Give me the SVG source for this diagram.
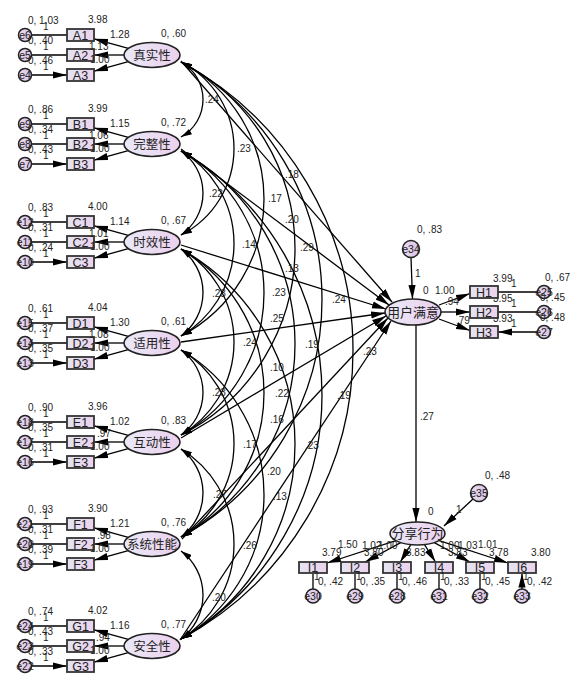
<svg xmlns="http://www.w3.org/2000/svg" width="582" height="681" viewBox="0 0 582 681">
<defs>
<linearGradient id="gL" x1="0" y1="0" x2="1" y2="0"><stop offset="0" stop-color="#e9e9f8"/><stop offset="1" stop-color="#ecd0ec"/></linearGradient>
<linearGradient id="gR" x1="0" y1="0" x2="1" y2="0"><stop offset="0" stop-color="#e4e4f2"/><stop offset="1" stop-color="#ecd2ec"/></linearGradient>
<linearGradient id="gE" x1="0" y1="0" x2="1" y2="0"><stop offset="0" stop-color="#e8dcf2"/><stop offset="1" stop-color="#dcc2e4"/></linearGradient>
<marker id="ah" viewBox="0 0 14 8" refX="14" refY="4" markerWidth="14" markerHeight="8" markerUnits="userSpaceOnUse" orient="auto-start-reverse"><path d="M0,0.4 L14,4 L0,7.6 z" fill="#000"/></marker>
<marker id="as" viewBox="0 0 11 7" refX="11" refY="3.5" markerWidth="11" markerHeight="7" markerUnits="userSpaceOnUse" orient="auto-start-reverse"><path d="M0,0.4 L11,3.5 L0,6.6 z" fill="#000"/></marker>
</defs>
<style>
.ln{fill:none;stroke:#000;stroke-width:1.3;marker-end:url(#ah)}
.cv{fill:none;stroke:#000;stroke-width:1.3;marker-start:url(#as);marker-end:url(#as)}
.lat{fill:url(#gL);stroke:#222;stroke-width:1.6}
.obs{fill:url(#gR);stroke:#333;stroke-width:1.8}
.err{fill:url(#gE);stroke:#222;stroke-width:1.5}
.t{font-family:"Liberation Sans",Arial,sans-serif;font-size:10px;fill:#222}
.v{font-family:"Liberation Sans",Arial,sans-serif;font-size:12.5px;fill:#222;text-anchor:middle}
.e{font-family:"Liberation Sans",Arial,sans-serif;font-size:10.5px;fill:#222;text-anchor:middle}
.c{font-family:"Liberation Sans","Noto Sans CJK SC",sans-serif;font-size:12.5px;fill:#222;text-anchor:middle}
</style>
<rect width="582" height="681" fill="#fff"/>

<g id="connectors">
<!-- error -> indicator, left -->
<path class="ln" d="M31.5,35H67M31.5,55H67M31.5,75H67"/>
<path class="ln" d="M31.5,124H67M31.5,144H67M31.5,164H67"/>
<path class="ln" d="M31.5,222H67M31.5,242H67M31.5,262H67"/>
<path class="ln" d="M31.5,323H67M31.5,343H67M31.5,363H67"/>
<path class="ln" d="M31.5,422H67M31.5,442H67M31.5,462H67"/>
<path class="ln" d="M31.5,524H67M31.5,544H67M31.5,564H67"/>
<path class="ln" d="M31.5,626H67M31.5,646H67M31.5,666H67"/>
<!-- latent -> indicators -->
<path class="ln" d="M128.3,48.4L94,38.8"/><path class="ln" d="M124,55H94"/><path class="ln" d="M128.3,61.6L94,71.2"/>
<path class="ln" d="M128.3,137.4L94,127.8"/><path class="ln" d="M124,144H94"/><path class="ln" d="M128.3,150.6L94,160.2"/>
<path class="ln" d="M128.3,235.4L94,225.8"/><path class="ln" d="M124,242H94"/><path class="ln" d="M128.3,248.6L94,258.2"/>
<path class="ln" d="M128.3,336.4L94,326.8"/><path class="ln" d="M124,343H94"/><path class="ln" d="M128.3,349.6L94,359.2"/>
<path class="ln" d="M128.3,435.4L94,425.8"/><path class="ln" d="M124,442H94"/><path class="ln" d="M128.3,448.6L94,458.2"/>
<path class="ln" d="M128.3,537.4L94,527.8"/><path class="ln" d="M124,544H94"/><path class="ln" d="M128.3,550.6L94,560.2"/>
<path class="ln" d="M128.3,639.4L94,629.8"/><path class="ln" d="M124,646H94"/><path class="ln" d="M128.3,652.6L94,662.2"/>
<!-- covariances -->
<path class="cv" d="M181,62A42.96,42.96 0 0 1 181,137"/>
<path class="cv" d="M181,151A51.09,51.09 0 0 1 181,235"/>
<path class="cv" d="M181,249A54.01,54.01 0 0 1 181,336"/>
<path class="cv" d="M181,350A52.05,52.05 0 0 1 181,435"/>
<path class="cv" d="M181,449A55,55 0 0 1 181,537"/>
<path class="cv" d="M181,551A55,55 0 0 1 181,639"/>
<path class="cv" d="M181,62A97.09,97.09 0 0 1 181,235"/>
<path class="cv" d="M181,151A107.22,107.22 0 0 1 181,336"/>
<path class="cv" d="M181,249A108.09,108.09 0 0 1 181,435"/>
<path class="cv" d="M181,350A108.97,108.97 0 0 1 181,537"/>
<path class="cv" d="M181,449A111.64,111.64 0 0 1 181,639"/>
<path class="cv" d="M181,62A154.57,154.57 0 0 1 181,336"/>
<path class="cv" d="M181,151A162.97,162.97 0 0 1 181,435"/>
<path class="cv" d="M181,249A166.42,166.42 0 0 1 181,537"/>
<path class="cv" d="M181,350A167.28,167.28 0 0 1 181,639"/>
<path class="cv" d="M181,62A209.55,209.55 0 0 1 181,435"/>
<path class="cv" d="M181,151A220.37,220.37 0 0 1 181,537"/>
<path class="cv" d="M181,249A223.78,223.78 0 0 1 181,639"/>
<path class="cv" d="M181,62A270.52,270.52 0 0 1 181,537"/>
<path class="cv" d="M181,151A281.62,281.62 0 0 1 181,639"/>
<path class="cv" d="M181,62A327.95,327.95 0 0 1 181,639"/>
<!-- regressions to 用户满意 -->
<path class="ln" d="M181,61L392,302"/>
<path class="ln" d="M181,149L389,305"/>
<path class="ln" d="M181,245L386,309"/>
<path class="ln" d="M181,342L385,313"/>
<path class="ln" d="M181,438L386,316"/>
<path class="ln" d="M182,539L388,318"/>
<path class="ln" d="M180,640L391,321"/>
<!-- right side -->
<path class="ln" d="M411,257.5L412.5,299"/>
<path class="ln" d="M439,305L470,293.5"/><path class="ln" d="M441,312H470"/><path class="ln" d="M439,319L470,330.5"/>
<path class="ln" d="M537.5,292H498M537.5,312H498M537.5,332H498"/>
<path class="ln" d="M416,325L416,522"/>
<path class="ln" d="M473,499L444,526"/>
<path class="ln" d="M395.8,540.6L327,563"/>
<path class="ln" d="M400.7,542.6L365.1,562"/>
<path class="ln" d="M410.8,544.7L400.3,562"/>
<path class="ln" d="M424.5,544.6L435.5,562"/>
<path class="ln" d="M434.3,542.6L469.9,562"/>
<path class="ln" d="M439.2,540.6L508,563"/>
<path class="ln" d="M313,589V573.5M355,589V573.5M397,589V573.5M439,589V573.5M480,589V573.5M522,589V573.5"/>
</g>

<g id="hidden-labels" class="t">
<text x="493" y="302">3.95</text><text x="493" y="322">3.93</text>
</g>

<g id="block-zhenshi">
<circle class="err" cx="25" cy="35" r="6.5"/><text class="e" x="25" y="39">e6</text>
<circle class="err" cx="25" cy="55" r="6.5"/><text class="e" x="25" y="59">e5</text>
<circle class="err" cx="25" cy="75" r="6.5"/><text class="e" x="25" y="79">e4</text>
<rect class="obs" x="67" y="29" width="27" height="12"/><text class="v" x="80.5" y="39.5">A1</text>
<rect class="obs" x="67" y="49" width="27" height="12"/><text class="v" x="80.5" y="59.5">A2</text>
<rect class="obs" x="67" y="69" width="27" height="12"/><text class="v" x="80.5" y="79.5">A3</text>
<ellipse class="lat" cx="152" cy="55" rx="28" ry="12.5"/><text class="c" x="152" y="59.5">真实性</text>
</g>
<g id="block-wanzheng">
<circle class="err" cx="25" cy="124" r="6.5"/><text class="e" x="25" y="128">e9</text>
<circle class="err" cx="25" cy="144" r="6.5"/><text class="e" x="25" y="148">e8</text>
<circle class="err" cx="25" cy="164" r="6.5"/><text class="e" x="25" y="168">e7</text>
<rect class="obs" x="67" y="118" width="27" height="12"/><text class="v" x="80.5" y="128.5">B1</text>
<rect class="obs" x="67" y="138" width="27" height="12"/><text class="v" x="80.5" y="148.5">B2</text>
<rect class="obs" x="67" y="158" width="27" height="12"/><text class="v" x="80.5" y="168.5">B3</text>
<ellipse class="lat" cx="152" cy="144" rx="28" ry="12.5"/><text class="c" x="152" y="148.5">完整性</text>
</g>
<g id="block-shixiao">
<circle class="err" cx="25" cy="222" r="6.5"/><text class="e" x="25" y="226">e12</text>
<circle class="err" cx="25" cy="242" r="6.5"/><text class="e" x="25" y="246">e11</text>
<circle class="err" cx="25" cy="262" r="6.5"/><text class="e" x="25" y="266">e10</text>
<rect class="obs" x="67" y="216" width="27" height="12"/><text class="v" x="80.5" y="226.5">C1</text>
<rect class="obs" x="67" y="236" width="27" height="12"/><text class="v" x="80.5" y="246.5">C2</text>
<rect class="obs" x="67" y="256" width="27" height="12"/><text class="v" x="80.5" y="266.5">C3</text>
<ellipse class="lat" cx="152" cy="242" rx="28" ry="12.5"/><text class="c" x="152" y="246.5">时效性</text>
</g>
<g id="block-shiyong">
<circle class="err" cx="25" cy="323" r="6.5"/><text class="e" x="25" y="327">e15</text>
<circle class="err" cx="25" cy="343" r="6.5"/><text class="e" x="25" y="347">e14</text>
<circle class="err" cx="25" cy="363" r="6.5"/><text class="e" x="25" y="367">e13</text>
<rect class="obs" x="67" y="317" width="27" height="12"/><text class="v" x="80.5" y="327.5">D1</text>
<rect class="obs" x="67" y="337" width="27" height="12"/><text class="v" x="80.5" y="347.5">D2</text>
<rect class="obs" x="67" y="357" width="27" height="12"/><text class="v" x="80.5" y="367.5">D3</text>
<ellipse class="lat" cx="152" cy="343" rx="28" ry="12.5"/><text class="c" x="152" y="347.5">适用性</text>
</g>
<g id="block-hudong">
<circle class="err" cx="25" cy="422" r="6.5"/><text class="e" x="25" y="426">e18</text>
<circle class="err" cx="25" cy="442" r="6.5"/><text class="e" x="25" y="446">e17</text>
<circle class="err" cx="25" cy="462" r="6.5"/><text class="e" x="25" y="466">e16</text>
<rect class="obs" x="67" y="416" width="27" height="12"/><text class="v" x="80.5" y="426.5">E1</text>
<rect class="obs" x="67" y="436" width="27" height="12"/><text class="v" x="80.5" y="446.5">E2</text>
<rect class="obs" x="67" y="456" width="27" height="12"/><text class="v" x="80.5" y="466.5">E3</text>
<ellipse class="lat" cx="152" cy="442" rx="28" ry="12.5"/><text class="c" x="152" y="446.5">互动性</text>
</g>
<g id="block-xitong">
<circle class="err" cx="25" cy="524" r="6.5"/><text class="e" x="25" y="528">e21</text>
<circle class="err" cx="25" cy="544" r="6.5"/><text class="e" x="25" y="548">e20</text>
<circle class="err" cx="25" cy="564" r="6.5"/><text class="e" x="25" y="568">e19</text>
<rect class="obs" x="67" y="518" width="27" height="12"/><text class="v" x="80.5" y="528.5">F1</text>
<rect class="obs" x="67" y="538" width="27" height="12"/><text class="v" x="80.5" y="548.5">F2</text>
<rect class="obs" x="67" y="558" width="27" height="12"/><text class="v" x="80.5" y="568.5">F3</text>
<ellipse class="lat" cx="152" cy="544" rx="28" ry="12.5"/><text class="c" x="152" y="548.5">系统性能</text>
</g>
<g id="block-anquan">
<circle class="err" cx="25" cy="626" r="6.5"/><text class="e" x="25" y="630">e24</text>
<circle class="err" cx="25" cy="646" r="6.5"/><text class="e" x="25" y="650">e23</text>
<circle class="err" cx="25" cy="666" r="6.5"/><text class="e" x="25" y="670">e22</text>
<rect class="obs" x="67" y="620" width="27" height="12"/><text class="v" x="80.5" y="630.5">G1</text>
<rect class="obs" x="67" y="640" width="27" height="12"/><text class="v" x="80.5" y="650.5">G2</text>
<rect class="obs" x="67" y="660" width="27" height="12"/><text class="v" x="80.5" y="670.5">G3</text>
<ellipse class="lat" cx="152" cy="646" rx="28" ry="12.5"/><text class="c" x="152" y="650.5">安全性</text>
</g>
<g id="block-manyi">
<circle class="err" cx="411" cy="249" r="8.5"/><text class="e" x="411" y="253">e34</text>
<ellipse class="lat" cx="413" cy="312" rx="28" ry="13"/><text class="c" x="413" y="316.5" style="font-size:13px">用户满意</text>
<rect class="obs" x="470" y="286" width="28" height="12"/><text class="v" x="484" y="296.5">H1</text>
<rect class="obs" x="470" y="306" width="28" height="12"/><text class="v" x="484" y="316.5">H2</text>
<rect class="obs" x="470" y="326" width="28" height="12"/><text class="v" x="484" y="336.5">H3</text>
<circle class="err" cx="544" cy="292" r="6.5"/><text class="e" x="544" y="296">e25</text>
<circle class="err" cx="544" cy="312" r="6.5"/><text class="e" x="544" y="316">e26</text>
<circle class="err" cx="544" cy="332" r="6.5"/><text class="e" x="544" y="336">e27</text>
</g>
<g id="block-fenxiang">
<circle class="err" cx="479" cy="493" r="8.5"/><text class="e" x="479" y="497">e35</text>
<ellipse class="lat" cx="417.5" cy="533.5" rx="27.5" ry="11.5"/><text class="c" x="417.5" y="538" style="font-size:13px">分享行为</text>
<rect class="obs" x="299" y="562" width="28" height="11"/><text class="v" x="313" y="572">I1</text>
<rect class="obs" x="341" y="562" width="28" height="11"/><text class="v" x="355" y="572">I2</text>
<rect class="obs" x="383" y="562" width="28" height="11"/><text class="v" x="397" y="572">I3</text>
<rect class="obs" x="425" y="562" width="28" height="11"/><text class="v" x="439" y="572">I4</text>
<rect class="obs" x="466" y="562" width="28" height="11"/><text class="v" x="480" y="572">I5</text>
<rect class="obs" x="508" y="562" width="28" height="11"/><text class="v" x="522" y="572">I6</text>
<circle class="err" cx="313" cy="596" r="7"/><text class="e" x="313" y="600">e30</text>
<circle class="err" cx="355" cy="596" r="7"/><text class="e" x="355" y="600">e29</text>
<circle class="err" cx="397" cy="596" r="7"/><text class="e" x="397" y="600">e28</text>
<circle class="err" cx="439" cy="596" r="7"/><text class="e" x="439" y="600">e31</text>
<circle class="err" cx="480" cy="596" r="7"/><text class="e" x="480" y="600">e32</text>
<circle class="err" cx="522" cy="596" r="7"/><text class="e" x="522" y="600">e33</text>
</g>

<g id="labels" class="t">
<!-- block A -->
<text x="28" y="24">0, 1.03</text><text x="43" y="30">1</text>
<text x="28" y="44">0, .40</text><text x="43" y="50">1</text>
<text x="28" y="64">0, .46</text><text x="43" y="70">1</text>
<text x="88" y="23">3.98</text><text x="110" y="38">1.28</text><text x="89" y="50">1.13</text><text x="90" y="63">1.00</text><text x="161" y="37">0, .60</text>
<!-- block B -->
<text x="28" y="113">0, .86</text><text x="43" y="119">1</text>
<text x="28" y="133">0, .34</text><text x="43" y="139">1</text>
<text x="28" y="153">0, .43</text><text x="43" y="159">1</text>
<text x="88" y="112">3.99</text><text x="110" y="127">1.15</text><text x="89" y="139">1.06</text><text x="90" y="152">1.00</text><text x="161" y="126">0, .72</text>
<!-- block C -->
<text x="28" y="211">0, .83</text><text x="43" y="217">1</text>
<text x="28" y="231">0, .31</text><text x="43" y="237">1</text>
<text x="28" y="251">0, .24</text><text x="43" y="257">1</text>
<text x="88" y="210">4.00</text><text x="110" y="225">1.14</text><text x="89" y="237">1.01</text><text x="90" y="250">1.00</text><text x="161" y="224">0, .67</text>
<!-- block D -->
<text x="28" y="312">0, .61</text><text x="43" y="318">1</text>
<text x="28" y="332">0, .37</text><text x="43" y="338">1</text>
<text x="28" y="352">0, .35</text><text x="43" y="358">1</text>
<text x="88" y="311">4.04</text><text x="110" y="326">1.30</text><text x="89" y="338">1.08</text><text x="90" y="351">1.00</text><text x="161" y="325">0, .61</text>
<!-- block E -->
<text x="28" y="411">0, .90</text><text x="43" y="417">1</text>
<text x="28" y="431">0, .35</text><text x="43" y="437">1</text>
<text x="28" y="451">0, .31</text><text x="43" y="457">1</text>
<text x="88" y="410">3.96</text><text x="110" y="425">1.02</text><text x="97" y="437">.97</text><text x="90" y="450">1.00</text><text x="161" y="424">0, .83</text>
<!-- block F -->
<text x="28" y="513">0, .93</text><text x="43" y="519">1</text>
<text x="28" y="533">0, .31</text><text x="43" y="539">1</text>
<text x="28" y="553">0, .39</text><text x="43" y="559">1</text>
<text x="88" y="512">3.90</text><text x="110" y="527">1.21</text><text x="97" y="539">.98</text><text x="90" y="552">1.00</text><text x="161" y="526">0, .76</text>
<!-- block G -->
<text x="28" y="615">0, .74</text><text x="43" y="621">1</text>
<text x="28" y="635">0, .43</text><text x="43" y="641">1</text>
<text x="28" y="655">0, .33</text><text x="43" y="661">1</text>
<text x="88" y="614">4.02</text><text x="110" y="629">1.16</text><text x="96" y="641">.94</text><text x="90" y="654">1.00</text><text x="161" y="628">0, .77</text>
<!-- covariances and regressions -->
<text x="205" y="103">.24</text><text x="237" y="152">.23</text><text x="285" y="178">.18</text>
<text x="209" y="197">.22</text><text x="268" y="202">.17</text><text x="285" y="223">.20</text>
<text x="242" y="248">.14</text><text x="300" y="251">.29</text><text x="285" y="272">.13</text>
<text x="212" y="297">.23</text><text x="272" y="296">.23</text><text x="332" y="303">.24</text>
<text x="270" y="322">.25</text><text x="243" y="346">.24</text><text x="305" y="348">.19</text>
<text x="363" y="355">.23</text><text x="270" y="371">.10</text><text x="212" y="396">.23</text>
<text x="275" y="397">.22</text><text x="337" y="399">.19</text><text x="270" y="423">.16</text>
<text x="243" y="448">.17</text><text x="305" y="449">.23</text><text x="267" y="475">.20</text>
<text x="213" y="498">.27</text><text x="273" y="500">.13</text><text x="243" y="549">.26</text>
<text x="212" y="601">.20</text>
<!-- right side -->
<text x="417" y="233">0, .83</text><text x="415" y="277">1</text>
<text x="423" y="294">0</text><text x="435" y="294">1.00</text><text x="445" y="305">.94</text><text x="456" y="324">.79</text>
<text x="493" y="282">3.99</text>
<text x="511" y="287">1</text><text x="511" y="307">1</text><text x="511" y="327">1</text>
<text x="545" y="281">0, .67</text><text x="540" y="301">0, .45</text><text x="540" y="321">0, .48</text>
<text x="420" y="420">.27</text>
<text x="485" y="479">0, .48</text><text x="456" y="513">1</text><text x="428" y="515">0</text>
<text x="338" y="548">1.50</text><text x="362" y="549">1.02</text><text x="378" y="549">1.00</text>
<text x="440" y="549">1.00</text><text x="458" y="549">1.03</text><text x="478" y="548">1.01</text>
<text x="322" y="556">3.79</text><text x="364" y="556">3.80</text><text x="406" y="556">3.83</text>
<text x="448" y="556">3.83</text><text x="489" y="556">3.78</text><text x="531" y="556">3.80</text>
<text x="314" y="580">1</text><text x="356" y="580">1</text><text x="398" y="580">1</text>
<text x="440" y="580">1</text><text x="481" y="580">1</text><text x="523" y="580">1</text>
<text x="318" y="585">0, .42</text><text x="360" y="585">0, .35</text><text x="402" y="585">0, .46</text>
<text x="444" y="585">0, .33</text><text x="485" y="585">0, .45</text><text x="527" y="585">0, .42</text>
</g>
</svg>
